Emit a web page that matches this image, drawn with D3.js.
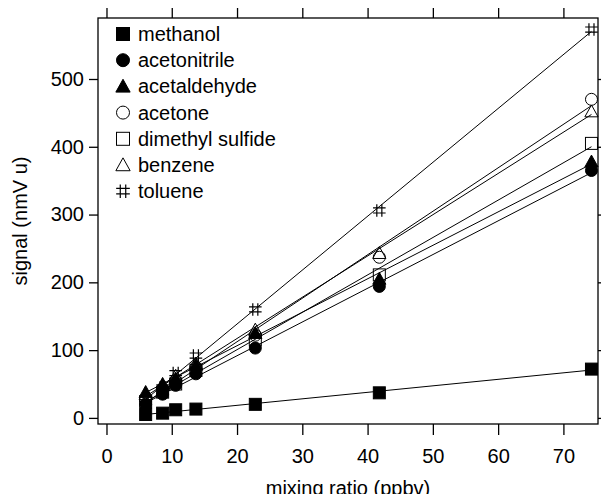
<!DOCTYPE html>
<html>
<head>
<meta charset="utf-8">
<script src="https://cdn.jsdelivr.net/npm/d3@7"></script>
<style>
  body { margin: 0; background: #fff; }
  svg text { font-family: "Liberation Sans", Arial, sans-serif; fill: #000; }
</style>
</head>
<body>
<div class="svg-container"></div>
<script>
// mixing ratios (ppbv) of the calibration steps
var mixing = [6.0, 8.6, 10.6, 13.7, 22.8, 41.8, 74.3];

// signal (nmV u) per compound
var methanol     = [5, 7, 12, 13, 20, 37, 72];
var acetonitrile = [20, 35, 48, 65, 103, 194, 365];
var acetaldehyde = [38, 50, 58, 78, 125, 205, 378];
var acetone      = [27, 43, 55, 75, 122, 237, 470];
var dms          = [24, 38, 50, 70, 115, 211, 405];
var benzene      = [35, 48, 62, 80, 130, 243, 452];
var toluene      = [28, 45, 66, 92, 160, 306, 573];

var names   = ["methanol", "acetonitrile", "acetaldehyde", "acetone", "dimethyl sulfide", "benzene", "toluene"];
var markers = ["sqFill", "circFill", "triFill", "circOpen", "sqOpen", "triOpen", "hash"];
var values  = [methanol, acetonitrile, acetaldehyde, acetone, dms, benzene, toluene];

var xTicks = [0, 10, 20, 30, 40, 50, 60, 70];
var yTicks = [0, 100, 200, 300, 400, 500];

var W = 601, H = 494;
var frame = {left: 98, right: 598, top: 18, bottom: 424};
var fs = "20px";

var svg = d3.select(".svg-container").append("svg")
    .attr("width", W)
    .attr("height", H);

var x = d3.scaleLinear().domain([-1.3, 75.3]).range([frame.left, frame.right]);
var y = d3.scaleLinear().domain([-9, 590]).range([frame.bottom, frame.top]);

// least squares line
function fit(xs, ys) {
    var mx = d3.mean(xs), my = d3.mean(ys);
    var sxy = d3.sum(xs, function(v, i) { return (v - mx) * (ys[i] - my); });
    var sxx = d3.sum(xs, function(v) { return (v - mx) * (v - mx); });
    var b = sxy / sxx;
    return {slope: b, icpt: my - b * mx};
}

function drawMarker(g, type, s) {
    var h = s / 2;
    if (type === "sqFill" || type === "sqOpen") {
        g.append("rect").attr("x", -h).attr("y", -h).attr("width", s).attr("height", s)
            .attr("fill", type === "sqFill" ? "#000" : "none")
            .attr("stroke", "#000").attr("stroke-width", 1);
    } else if (type === "circFill" || type === "circOpen") {
        g.append("circle").attr("r", h)
            .attr("fill", type === "circFill" ? "#000" : "none")
            .attr("stroke", "#000").attr("stroke-width", 1);
    } else if (type === "triFill" || type === "triOpen") {
        var t = h * 1.1;
        g.append("path").attr("d", "M0," + (-t) + "L" + t + "," + (t * 0.8) + "L" + (-t) + "," + (t * 0.8) + "Z")
            .attr("fill", type === "triFill" ? "#000" : "none")
            .attr("stroke", "#000").attr("stroke-width", 1);
    } else {
        var a = h * 0.42, e = h * 1.05;
        g.append("path")
            .attr("d", "M" + (-a) + "," + (-e) + "V" + e + "M" + a + "," + (-e) + "V" + e +
                       "M" + (-e) + "," + (-a) + "H" + e + "M" + (-e) + "," + a + "H" + e)
            .attr("fill", "none").attr("stroke", "#000").attr("stroke-width", 1.2);
    }
}

// fit lines
var lineGen = d3.line().x(function(d) { return x(d[0]); }).y(function(d) { return y(d[1]); });
values.forEach(function(vals) {
    var f = fit(mixing, vals);
    var x0 = d3.min(mixing), x1 = d3.max(mixing);
    svg.append("path")
        .attr("d", lineGen([[x0, f.icpt + f.slope * x0], [x1, f.icpt + f.slope * x1]]))
        .attr("fill", "none").attr("stroke", "#000").attr("stroke-width", 1);
});

// points
values.forEach(function(vals, k) {
    vals.forEach(function(v, i) {
        var g = svg.append("g").attr("transform", "translate(" + x(mixing[i]) + "," + y(v) + ")");
        drawMarker(g, markers[k], 12);
    });
});

// frame
svg.append("rect")
    .attr("x", frame.left).attr("y", frame.top)
    .attr("width", frame.right - frame.left).attr("height", frame.bottom - frame.top)
    .attr("fill", "none").attr("stroke", "#000").attr("stroke-width", 1.3);

// axes
var axB = svg.append("g").attr("transform", "translate(0," + frame.bottom + ")")
    .call(d3.axisBottom(x).tickValues(xTicks).tickSize(11).tickPadding(14).tickSizeOuter(0));
var axT = svg.append("g").attr("transform", "translate(0," + frame.top + ")")
    .call(d3.axisTop(x).tickValues(xTicks).tickSize(10).tickFormat("").tickSizeOuter(0));
var axL = svg.append("g").attr("transform", "translate(" + frame.left + ",0)")
    .call(d3.axisLeft(y).tickValues(yTicks).tickSize(9).tickPadding(5).tickSizeOuter(0));
var axR = svg.append("g").attr("transform", "translate(" + frame.right + ",0)")
    .call(d3.axisRight(y).tickValues(yTicks).tickSize(9).tickFormat("").tickSizeOuter(0));

[axB, axT, axL, axR].forEach(function(a) {
    a.select(".domain").remove();
    a.selectAll("line").attr("stroke", "#000").attr("stroke-width", 1.3);
    a.selectAll("text").style("font-size", fs).attr("fill", "#000");
});

// axis titles
svg.append("text")
    .attr("x", (frame.left + frame.right) / 2).attr("y", 495)
    .attr("text-anchor", "middle").style("font-size", fs)
    .text("mixing ratio (ppbv)");

svg.append("text")
    .attr("transform", "translate(27," + ((frame.top + frame.bottom) / 2) + ") rotate(-90)")
    .attr("text-anchor", "middle").style("font-size", fs)
    .text("signal (nmV u)");

// legend
var legend = svg.append("g").attr("transform", "translate(123,34)");
names.forEach(function(n, k) {
    var row = legend.append("g").attr("transform", "translate(0," + (k * 26.2) + ")");
    drawMarker(row, markers[k], 13);
    row.append("text").attr("x", 15).attr("y", 0).attr("dy", "0.35em")
        .style("font-size", fs).text(n);
});
</script>
</body>
</html>
